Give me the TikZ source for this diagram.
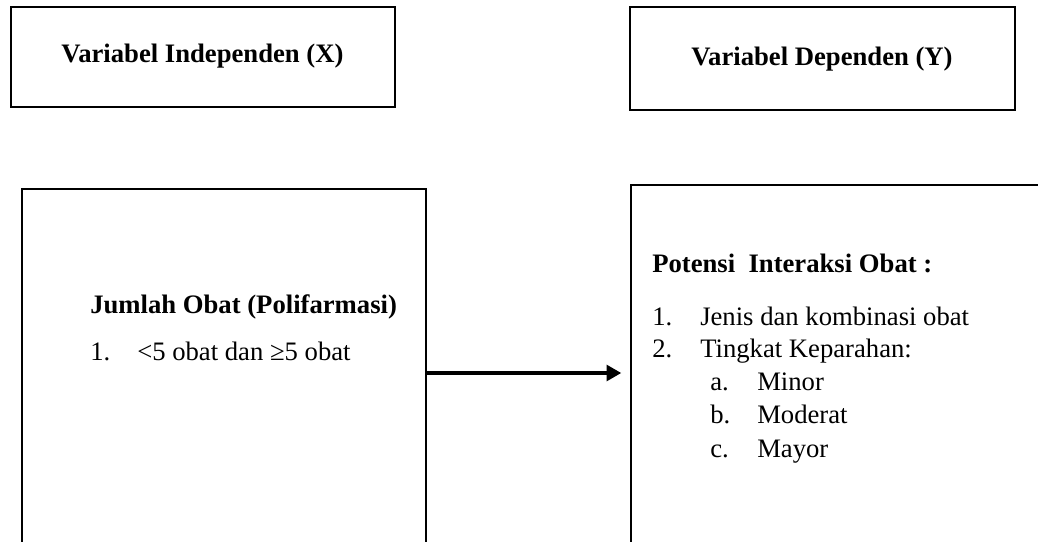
\documentclass[tikz,border=0pt]{standalone}
\usepackage{fontspec}
\setmainfont{Liberation Serif}
\usetikzlibrary{arrows.meta}
\begin{document}
\begin{tikzpicture}[x=0.75pt,y=-0.75pt,
  box/.style={draw=black, line width=1.2pt, rectangle, inner sep=0pt},
  lbl/.style={inner sep=0pt, font=\fontsize{20pt}{24pt}\selectfont},
  conn/.style={line width=2.3pt, -{Triangle[length=11pt,width=12pt]}, shorten >=6.75pt}]
\useasboundingbox (0,0) rectangle (1038,542);
% boxes
\node[box, minimum width=288pt, minimum height=75pt] (b1) at (203,57) {};
\node[box, minimum width=288.75pt, minimum height=77.25pt] (b2) at (822.5,58.5) {};
\node[box, minimum width=303pt, minimum height=278.25pt] (b3) at (224,374.5) {};
\node[box, minimum width=314.25pt, minimum height=281.25pt] (b4) at (840.5,372.5) {};
% titles
\node[lbl, anchor=base] (t1) at (202.5,63) {\textbf{Variabel Independen (X)}};
\node[lbl, anchor=base] (t2) at (822,65) {\textbf{Variabel Dependen (Y)}};
% left content
\node[lbl, anchor=base west] (j) at (90,313) {\textbf{Jumlah Obat (Polifarmasi)}};
\node[lbl, anchor=base west] (j1n) at (90,360) {1.};
\node[lbl, anchor=base west] (j1) at (137,360) {<5 obat dan ≥5 obat};
% right content
\node[lbl, anchor=base west] (p) at (652,272) {\textbf{Potensi\ \ Interaksi Obat :}};
\node[lbl, anchor=base west] (p1n) at (652,325) {1.};
\node[lbl, anchor=base west] (p1) at (700,325) {Jenis dan kombinasi obat};
\node[lbl, anchor=base west] (p2n) at (652,357) {2.};
\node[lbl, anchor=base west] (p2) at (700,357) {Tingkat Keparahan:};
\node[lbl, anchor=base west] (pan) at (710,390) {a.};
\node[lbl, anchor=base west] (pa) at (757,390) {Minor};
\node[lbl, anchor=base west] (pbn) at (710,423) {b.};
\node[lbl, anchor=base west] (pb) at (757,423) {Moderat};
\node[lbl, anchor=base west] (pcn) at (710,457) {c.};
\node[lbl, anchor=base west] (pc) at (757,457) {Mayor};
% connector
\coordinate (ay) at (500,373);
\draw[conn] (b3.east |- ay) -- (b4.west |- ay);
\end{tikzpicture}
\end{document}
